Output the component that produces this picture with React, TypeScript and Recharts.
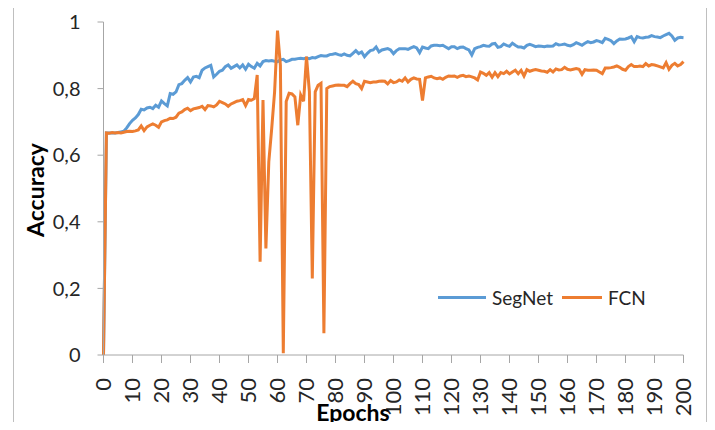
import { Legend, Line, LineChart, XAxis, YAxis } from "recharts";

// accuracy per epoch (epoch 0..200)
const segnet = [
  0, 0.667, 0.667, 0.667, 0.667, 0.668, 0.67, 0.672, 0.682, 0.695,
  0.705, 0.712, 0.722, 0.738, 0.736, 0.742, 0.744, 0.74, 0.75, 0.744,
  0.763, 0.755, 0.748, 0.785, 0.783, 0.79, 0.812, 0.815, 0.825, 0.833,
  0.82, 0.835, 0.837, 0.833, 0.855, 0.862, 0.866, 0.87, 0.835, 0.843,
  0.852, 0.855, 0.866, 0.871, 0.861, 0.866, 0.871, 0.862, 0.871, 0.858,
  0.873, 0.866, 0.861, 0.876, 0.868, 0.881, 0.884, 0.883, 0.884, 0.882,
  0.881, 0.886, 0.888, 0.881, 0.884, 0.888, 0.888, 0.89, 0.891, 0.89,
  0.892, 0.89, 0.893, 0.892, 0.896, 0.899, 0.898, 0.898, 0.902, 0.903,
  0.905, 0.902, 0.9, 0.904, 0.9, 0.898, 0.906, 0.914, 0.905, 0.91,
  0.896, 0.906, 0.914, 0.916, 0.925, 0.91, 0.916, 0.918, 0.92, 0.916,
  0.905, 0.914, 0.92, 0.92, 0.92, 0.918, 0.922, 0.926, 0.922, 0.908,
  0.925, 0.922, 0.92, 0.928, 0.93, 0.93, 0.929, 0.93, 0.925, 0.92,
  0.926, 0.926, 0.92, 0.924, 0.925, 0.92, 0.916, 0.901, 0.92, 0.924,
  0.926, 0.93, 0.928, 0.927, 0.934, 0.936, 0.924, 0.926, 0.934, 0.93,
  0.927, 0.936, 0.93, 0.925, 0.925, 0.922, 0.93, 0.933, 0.93, 0.926,
  0.928, 0.927, 0.926, 0.928, 0.927, 0.928, 0.935, 0.931, 0.932, 0.934,
  0.93, 0.928, 0.932, 0.938, 0.934, 0.93, 0.936, 0.941, 0.938, 0.94,
  0.944, 0.942, 0.938, 0.951, 0.948, 0.944, 0.935, 0.943, 0.949, 0.948,
  0.949, 0.952, 0.956, 0.941, 0.956, 0.953, 0.952, 0.954, 0.955, 0.959,
  0.956, 0.955, 0.953, 0.958, 0.962, 0.966, 0.958, 0.945, 0.952, 0.954,
  0.953,
];

const fcn = [
  0, 0.667, 0.666, 0.668, 0.667, 0.668, 0.667, 0.669, 0.671, 0.672,
  0.671, 0.673, 0.676, 0.688, 0.674, 0.685, 0.69, 0.694, 0.69, 0.684,
  0.7, 0.704, 0.706, 0.711, 0.71, 0.714, 0.726, 0.73, 0.737, 0.741,
  0.734, 0.739, 0.741, 0.743, 0.747, 0.737, 0.749, 0.748, 0.745, 0.751,
  0.762, 0.758, 0.754, 0.747, 0.754, 0.758, 0.762, 0.764, 0.767, 0.749,
  0.767, 0.765, 0.77, 0.841, 0.28, 0.766, 0.32, 0.58, 0.68, 0.79,
  0.974, 0.87, 0.005, 0.761, 0.786, 0.784, 0.775, 0.69, 0.781, 0.762,
  0.896, 0.79, 0.23, 0.79, 0.81, 0.816, 0.065, 0.8, 0.806, 0.808,
  0.81, 0.811, 0.81, 0.81, 0.806, 0.815, 0.822, 0.815, 0.812, 0.8,
  0.822, 0.82, 0.818, 0.82, 0.82, 0.822, 0.823, 0.822, 0.814, 0.824,
  0.818, 0.82, 0.826, 0.822, 0.832, 0.82, 0.828, 0.832, 0.829, 0.828,
  0.764, 0.832, 0.835, 0.837, 0.832, 0.83, 0.832, 0.828, 0.834, 0.838,
  0.837, 0.838, 0.834, 0.838, 0.84, 0.836, 0.838, 0.835, 0.832, 0.826,
  0.85, 0.846, 0.84, 0.848, 0.834, 0.848, 0.836, 0.848, 0.845, 0.852,
  0.844, 0.85, 0.855, 0.845, 0.855, 0.838, 0.857, 0.852, 0.855, 0.857,
  0.855, 0.853, 0.852, 0.849, 0.857, 0.85, 0.859, 0.856, 0.857, 0.864,
  0.858, 0.856, 0.858, 0.86, 0.858, 0.843, 0.857, 0.855, 0.855, 0.856,
  0.855, 0.85, 0.845, 0.862, 0.862, 0.863, 0.865, 0.868, 0.864, 0.858,
  0.855, 0.866, 0.872, 0.866, 0.866, 0.868, 0.866, 0.875, 0.868, 0.872,
  0.871, 0.868, 0.865, 0.862, 0.878, 0.858, 0.87, 0.876, 0.868, 0.872,
  0.881,
];

const xTicks = [0, 10, 20, 30, 40, 50, 60, 70, 80, 90, 100, 110, 120, 130, 140, 150, 160, 170, 180, 190, 200];
const yTicks = [0, 0.2, 0.4, 0.6, 0.8, 1];

const BLUE = "#5B9BD5";
const ORANGE = "#ED7D31";
const FONT = "Lato, Carlito, Calibri, sans-serif";
const AXIS = "#a6a6a6";

const rows = segnet.map((v, i) => ({ epoch: i, SegNet: v, FCN: fcn[i] }));

function EpochTick({ x, y, payload }: any) {
  return (
    <text
      x={x}
      y={y}
      dy="0.35em"
      textAnchor="end"
      transform={`rotate(-90 ${x} ${y})`}
      fill="#262626"
      fontSize={22}
      fontFamily={FONT}
    >
      {payload.value}
    </text>
  );
}

function LegendBox() {
  const item = (color: string, name: string, left: number, w: number) => (
    <div style={{ position: "absolute", left, top: 0, display: "flex", alignItems: "center", height: 28 }}>
      <div style={{ width: w, height: 3, background: color, marginRight: 6 }} />
      <span style={{ fontSize: 19, color: "#262626", fontFamily: FONT, whiteSpace: "nowrap" }}>{name}</span>
    </div>
  );
  return (
    <div style={{ position: "relative", height: 28 }}>
      {item(BLUE, "SegNet", 0, 48)}
      {item(ORANGE, "FCN", 124, 40)}
    </div>
  );
}

export default function App() {
  return (
    <div style={{ position: "relative", margin: -8, width: 715, height: 430, background: "#fff", overflow: "hidden" }}>
      <div
        style={{
          position: "absolute",
          left: 13,
          top: 5,
          width: 692,
          height: 440,
          border: "1px solid #bfbfbf",
        }}
      />
      <LineChart
        width={715}
        height={430}
        data={rows}
        margin={{ top: 22, right: 31.5, left: 63.5, bottom: 25 }}
      >
        <XAxis
          dataKey="epoch"
          type="number"
          domain={[0, 200]}
          ticks={xTicks}
          interval={0}
          height={50}
          stroke={AXIS}
          tickSize={8}
          tickMargin={15}
          tick={<EpochTick />}
        />
        <YAxis
          type="number"
          domain={[0, 1]}
          ticks={yTicks}
          width={40}
          stroke={AXIS}
          tickSize={6}
          tickMargin={17}
          tickFormatter={(v: number) => String(v).replace(".", ",")}
          tick={{ fill: "#262626", fontSize: 20, fontFamily: FONT }}
        />
        <Legend
          layout="horizontal"
          align="center"
          verticalAlign="middle"
          content={<LegendBox />}
          wrapperStyle={{ position: "absolute", left: 438, top: 283, width: 240 }}
        />
        <Line
          type="linear"
          dataKey="SegNet"
          stroke={BLUE}
          strokeWidth={3}
          dot={false}
          isAnimationActive={false}
        />
        <Line
          type="linear"
          dataKey="FCN"
          stroke={ORANGE}
          strokeWidth={3}
          dot={false}
          isAnimationActive={false}
        />
      </LineChart>
      <div
        style={{
          position: "absolute",
          left: 35,
          top: 190,
          transform: "translate(-50%, -50%) rotate(-90deg)",
          fontFamily: FONT,
          fontWeight: 700,
          fontSize: 23,
          color: "#000",
          whiteSpace: "nowrap",
        }}
      >
        Accuracy
      </div>
      <div
        style={{
          position: "absolute",
          left: 353,
          top: 412,
          transform: "translate(-50%, -50%)",
          fontFamily: FONT,
          fontWeight: 700,
          fontSize: 23,
          color: "#000",
          whiteSpace: "nowrap",
        }}
      >
        Epochs
      </div>
    </div>
  );
}
